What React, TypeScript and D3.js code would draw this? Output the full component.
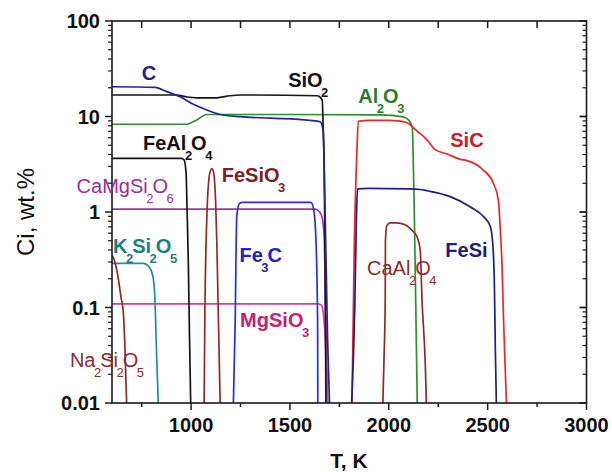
import React from "react";
import * as d3 from "d3";

// ---------- data ----------
const xMajorTicks = [1000, 1500, 2000, 2500, 3000];
const xMinorTicks = [750, 1250, 1750, 2250, 2750];
const xTopTicks = [750, 1000, 1250, 1500, 1750, 2000, 2250, 2500, 2750];
const yMajorTicks = [0.01, 0.1, 1, 10, 100];
const yTickLabels = ["0.01", "0.1", "1", "10", "100"];

const T_C = [600, 818, 877, 944, 1012, 1079, 1147, 1248, 1400, 1600, 1653, 1668, 1678, 1690, 1700];
const V_C = [20.5, 20.2, 18.2, 16.1, 13.4, 11.7, 10.5, 9.96, 9.6, 9.1, 8.8, 7, 1, 0.05, 0.01];

const T_SiO2 = [600, 927, 980, 1029, 1130, 1197, 1250, 1638, 1663, 1668, 1673, 1678, 1682];
const V_SiO2 = [16.8, 16.8, 16.0, 15.7, 15.7, 16.5, 16.8, 16.5, 15, 8, 3, 0.3, 0.01];

const T_Al2O3 = [600, 978, 1000, 1029, 1079, 1500, 1957, 2073, 2100, 2119, 2122, 2128, 2136, 2144];
const V_Al2O3 = [8.3, 8.3, 8.6, 9.2, 10.5, 10.5, 10.4, 9.9, 9.2, 7.7, 5, 1.34, 0.12, 0.01];

const T_SiC = [1814, 1825, 1839, 1846, 1900, 2000, 2050, 2092, 2143, 2193, 2235, 2295, 2362, 2396, 2478, 2529, 2554, 2565, 2573, 2580, 2590, 2595];
const V_SiC = [0.01, 0.4, 4.5, 8.9, 9.1, 9.1, 9.0, 8.6, 7.05, 5.7, 4.5, 4.05, 3.56, 3.45, 2.75, 2.0, 1.34, 0.6, 0.27, 0.079, 0.02, 0.01];

const T_FeAl2O4 = [600, 950, 965, 975, 980, 986, 992, 998];
const V_FeAl2O4 = [3.65, 3.65, 3.5, 2.5, 1.0, 0.3, 0.05, 0.01];

const T_FeSiO3 = [1066, 1070, 1075, 1082, 1090, 1098, 1105, 1112, 1118, 1124, 1130, 1137, 1147];
const V_FeSiO3 = [0.01, 0.1, 0.4, 1.2, 2.2, 2.7, 2.85, 2.7, 2.2, 1.3, 0.5, 0.1, 0.01];

const T_CaMgSi2O6 = [600, 1628, 1650, 1662, 1673, 1680, 1690];
const V_CaMgSi2O6 = [1.07, 1.07, 1.0, 0.89, 0.55, 0.1, 0.01];

const T_MgSiO3 = [600, 1643, 1660, 1668, 1678, 1690];
const V_MgSiO3 = [0.109, 0.109, 0.105, 0.09, 0.05, 0.01];

const T_K2Si2O5 = [600, 760, 785, 805, 815, 820, 826, 834];
const V_K2Si2O5 = [0.29, 0.29, 0.27, 0.22, 0.15, 0.08, 0.03, 0.01];

const T_Na2Si2O5 = [600, 610, 620, 632, 645, 657, 665, 674];
const V_Na2Si2O5 = [0.35, 0.32, 0.27, 0.2, 0.13, 0.09, 0.04, 0.01];

const T_Fe3C = [1214, 1223, 1231, 1245, 1260, 1606, 1619, 1631, 1640, 1641];
const V_Fe3C = [0.01, 0.07, 0.9, 1.23, 1.26, 1.26, 1.09, 0.55, 0.07, 0.01];

const T_FeSi = [1812, 1828, 1836, 1842, 1900, 2100, 2159, 2193, 2311, 2413, 2480, 2514, 2528, 2534, 2539, 2544];
const V_FeSi = [0.01, 0.1, 0.8, 1.75, 1.77, 1.75, 1.72, 1.67, 1.45, 1.13, 0.89, 0.7, 0.4, 0.18, 0.036, 0.01];

const T_CaAl2O4 = [1970, 1976, 1982, 1983, 1990, 2007, 2040, 2080, 2109, 2125, 2143, 2159, 2168, 2185, 2190];
const V_CaAl2O4 = [0.01, 0.03, 0.12, 0.5, 0.72, 0.77, 0.77, 0.74, 0.67, 0.62, 0.55, 0.4, 0.12, 0.024, 0.01];

// ---------- styling ----------
const W = 612;
const H = 472;
const X0 = 112;
const X1 = 586.5;
const Y0 = 21;
const Y1 = 403;
const FONT = "'Liberation Sans', Arial, Helvetica, sans-serif";

const series = [
  { t: T_Al2O3, v: V_Al2O3, color: "#2f8f2f" },
  { t: T_SiC, v: V_SiC, color: "#e8282c" },
  { t: T_CaMgSi2O6, v: V_CaMgSi2O6, color: "#a235a8" },
  { t: T_MgSiO3, v: V_MgSiO3, color: "#e8399a" },
  { t: T_SiO2, v: V_SiO2, color: "#151515" },
  { t: T_FeAl2O4, v: V_FeAl2O4, color: "#151515" },
  { t: T_C, v: V_C, color: "#24248f" },
  { t: T_FeSiO3, v: V_FeSiO3, color: "#8e2a2e" },
  { t: T_K2Si2O5, v: V_K2Si2O5, color: "#1f9090" },
  { t: T_Na2Si2O5, v: V_Na2Si2O5, color: "#8e2a2e" },
  { t: T_Fe3C, v: V_Fe3C, color: "#2b2be0" },
  { t: T_FeSi, v: V_FeSi, color: "#1e1e85" },
  { t: T_CaAl2O4, v: V_CaAl2O4, color: "#8e2a2e" },
];

// label anchors in data units (T, wt.%)
const labels = [
  { text: "C", t: 750, v: 24.1, color: "#24248f", bold: true },
  { text: "SiO_2", t: 1491, v: 20.5, color: "#111111", bold: true },
  { text: "Al_2O_3", t: 1846, v: 13.8, color: "#2a7d2a", bold: true },
  { text: "SiC", t: 2311, v: 4.83, color: "#c8202a", bold: true },
  { text: "FeAl_2O_4", t: 757, v: 4.46, color: "#111111", bold: true },
  { text: "FeSiO_3", t: 1155, v: 2.08, color: "#7e1e22", bold: true },
  { text: "CaMgSi_2O_6", t: 421, v: 1.57, color: "#9a2d9c", bold: false },
  { text: "K_2Si_2O_5", t: 605, v: 0.37, color: "#1a7f7f", bold: true },
  { text: "Fe_3C", t: 1245, v: 0.3, color: "#2323c0", bold: true },
  { text: "FeSi", t: 2286, v: 0.336, color: "#1e1e80", bold: true },
  { text: "CaAl_2O_4", t: 1890, v: 0.219, color: "#8e2a2e", bold: false },
  { text: "MgSiO_3", t: 1248, v: 0.063, color: "#c2226f", bold: true },
  { text: "Na_2Si_2O_5", t: 387, v: 0.024, color: "#8e2a2e", bold: false },
];

function Chem({ text, x, y, color, bold }: { text: string; x: number; y: number; color: string; bold: boolean }) {
  const parts: { s: string; sub: boolean }[] = [];
  let i = 0;
  while (i < text.length) {
    if (text[i] === "_") {
      parts.push({ s: text[i + 1], sub: true });
      i += 2;
    } else {
      let j = i;
      while (j < text.length && text[j] !== "_") j++;
      parts.push({ s: text.slice(i, j), sub: false });
      i = j;
    }
  }
  let cur = 0;
  let prevSub = false;
  return (
    <text x={x} y={y} fill={color} fontFamily={FONT} fontSize={20} fontWeight={bold ? 700 : 400}>
      {parts.map((p, k) => {
        const dy = p.sub ? 10 - cur : 0 - cur;
        const dx = p.sub ? -1.5 : prevSub ? -1 : 0;
        cur = p.sub ? 10 : 0;
        prevSub = p.sub;
        return (
          <tspan key={k} dx={dx} dy={dy} fontSize={p.sub ? 13 : 20}>
            {p.s}
          </tspan>
        );
      })}
    </text>
  );
}

export default function App() {
  const x = d3.scaleLinear().domain([600, 3000]).range([X0, X1]);
  const y = d3.scaleLog().domain([0.01, 100]).range([Y1, Y0]);
  const line = d3
    .line<[number, number]>()
    .x((d) => x(d[0]))
    .y((d) => y(d[1]))
    .curve(d3.curveMonotoneX);

  const yMinor: number[] = [];
  [0.01, 0.1, 1, 10].forEach((d) => {
    for (let k = 2; k <= 9; k++) yMinor.push(d * k);
  });

  const axisColor = "#1a1a1a";

  return (
    <svg width={W} height={H} style={{ position: "absolute", left: 0, top: 0, background: "#fff" }}>
      <defs>
        <clipPath id="plot">
          <rect x={X0} y={Y0} width={X1 - X0} height={Y1 - Y0} />
        </clipPath>
      </defs>
      <rect x={0} y={0} width={W} height={H} fill="#fff" />

      <g clipPath="url(#plot)">
        {series.map((s, k) => (
          <path
            key={k}
            d={line(s.t.map((t, i) => [t, s.v[i]] as [number, number])) || ""}
            fill="none"
            stroke={s.color}
            strokeWidth={1.7}
            strokeLinejoin="round"
          />
        ))}
      </g>

      {/* frame */}
      <rect x={X0} y={Y0} width={X1 - X0} height={Y1 - Y0} fill="none" stroke={axisColor} strokeWidth={1.6} />

      {/* bottom ticks */}
      {xMajorTicks.map((t) => (
        <line key={"bM" + t} x1={x(t)} x2={x(t)} y1={Y1} y2={Y1 + 7} stroke={axisColor} strokeWidth={1.5} />
      ))}
      {xMinorTicks.map((t) => (
        <line key={"bm" + t} x1={x(t)} x2={x(t)} y1={Y1} y2={Y1 + 4} stroke={axisColor} strokeWidth={1.5} />
      ))}
      {xTopTicks.map((t) => (
        <line key={"tm" + t} x1={x(t)} x2={x(t)} y1={Y0} y2={Y0 + 7} stroke={axisColor} strokeWidth={1.5} />
      ))}
      {xMajorTicks.map((t) => (
        <text
          key={"bl" + t}
          x={x(t)}
          y={432}
          textAnchor="middle"
          fontFamily={FONT}
          fontSize={20}
          fontWeight={700}
          fill="#111"
        >
          {t}
        </text>
      ))}

      {/* y ticks */}
      {yMajorTicks.map((v) => (
        <g key={"yM" + v}>
          <line x1={X0 - 7} x2={X0} y1={y(v)} y2={y(v)} stroke={axisColor} strokeWidth={1.5} />
          <line x1={X1 - 7} x2={X1} y1={y(v)} y2={y(v)} stroke={axisColor} strokeWidth={1.8} />
        </g>
      ))}
      {yMinor.map((v) => (
        <g key={"ym" + v}>
          <line x1={X0 - 4} x2={X0} y1={y(v)} y2={y(v)} stroke={axisColor} strokeWidth={1.2} />
          <line x1={X1 - 4} x2={X1} y1={y(v)} y2={y(v)} stroke={axisColor} strokeWidth={1.2} />
        </g>
      ))}
      {yMajorTicks.map((v, i) => (
        <text
          key={"yl" + v}
          x={100}
          y={y(v) + 7}
          textAnchor="end"
          fontFamily={FONT}
          fontSize={20}
          fontWeight={700}
          fill="#111"
        >
          {yTickLabels[i]}
        </text>
      ))}

      {/* axis titles */}
      <text x={349} y={468} textAnchor="middle" fontFamily={FONT} fontSize={21} fontWeight={700} fill="#111">
        T, K
      </text>
      <text
        transform="translate(34,212) rotate(-90)"
        textAnchor="middle"
        fontFamily={FONT}
        fontSize={24}
        fill="#111"
      >
        Ci, wt.%
      </text>

      {/* curve labels */}
      {labels.map((l, k) => (
        <Chem key={k} text={l.text} x={x(l.t)} y={y(l.v)} color={l.color} bold={l.bold} />
      ))}
    </svg>
  );
}
